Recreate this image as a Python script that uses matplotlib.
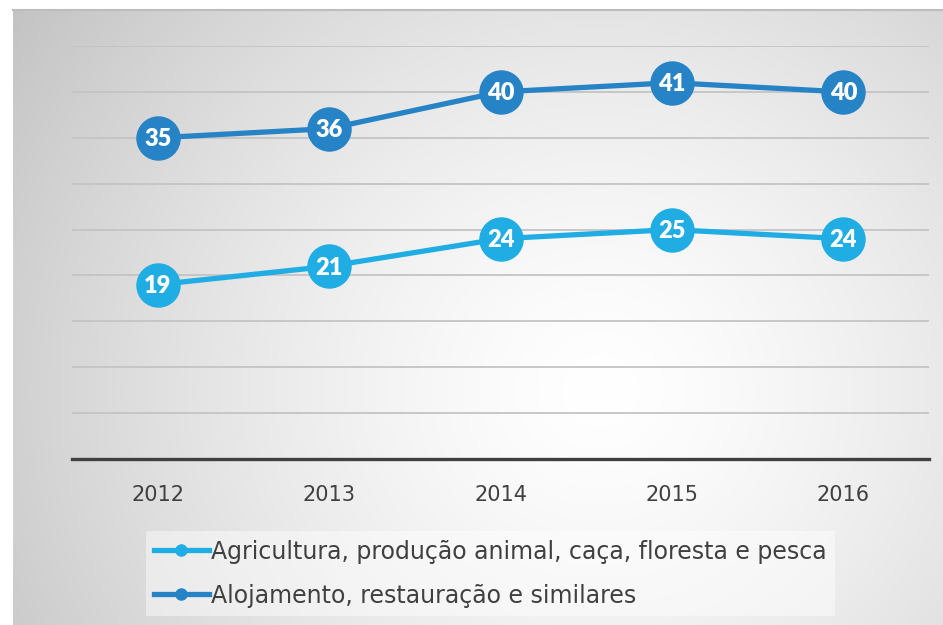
import numpy as np
import matplotlib
matplotlib.use("Agg")
import matplotlib.pyplot as plt
from matplotlib.lines import Line2D

years = ["2012", "2013", "2014", "2015", "2016"]
agri = [19, 21, 24, 25, 24]
aloj = [35, 36, 40, 41, 40]
series_names = ["Agricultura, produção animal, caça, floresta e pesca",
                "Alojamento, restauração e similares"]
colors = ["#1fade4", "#2683c6"]

W, H = 943, 625
dpi = 100
fig = plt.figure(figsize=(W / dpi, H / dpi), dpi=dpi)
fig.patch.set_facecolor("white")

# background panel with radial gradient
bx0, by0 = 13, 10
bg = fig.add_axes([bx0 / W, 0, 1 - bx0 / W, 1 - by0 / H], zorder=-5)
xs = np.arange(bx0, W)
ys = np.arange(by0, H)
X, Y = np.meshgrid(xs, ys)
cx, cy = 600, 390
d = np.sqrt(((X - cx) / 1.0) ** 2 + ((Y - cy) / 0.95) ** 2)
v = 1 - 0.23 * np.clip(d / 700, 0, 1.2) ** 1.4
img = np.dstack([v, v, v])
bg.imshow(img, aspect="auto", extent=[0, 1, 0, 1], interpolation="bilinear")
bg.set_xlim(0, 1)
bg.set_ylim(0, 1)
bg.axis("off")
bg.plot([0, 1], [1, 1], color="#bdbdbd", lw=1.5, transform=bg.transAxes, clip_on=False)

left, right = 72 / W, 929 / W
bottom, top = 1 - 459 / H, 1 - 46 / H
ax = fig.add_axes([left, bottom, right - left, top - bottom])
ax.set_facecolor("none")

x = np.arange(len(years))
ax.set_xlim(-0.5, len(years) - 0.5)
ax.set_ylim(0, 45)
ax.set_yticks(np.arange(5, 50, 5))
ax.yaxis.grid(True, color="#c4c4c4", lw=1.3)
ax.set_axisbelow(True)
for s in ["top", "left", "right"]:
    ax.spines[s].set_visible(False)
ax.spines["bottom"].set_color("#404040")
ax.spines["bottom"].set_linewidth(2.4)
ax.tick_params(axis="y", length=0, labelleft=False)
ax.tick_params(axis="x", length=0, pad=19, labelsize=15, labelcolor="#404040")
ax.set_xticks(x)
ax.set_xticklabels(years, fontfamily="DejaVu Sans")

for vals, c, zo in [(aloj, colors[1], 3), (agri, colors[0], 4)]:
    ax.plot(x, vals, color=c, lw=3.8, marker="o", markersize=32,
            markeredgewidth=0, zorder=zo, clip_on=False)
    for xi, vi in zip(x, vals):
        ax.text(xi, vi - 0.15, str(vi), ha="center", va="center", color="white",
                fontsize=17, fontweight="heavy", fontfamily="Lato", zorder=zo + 1)

handles = [Line2D([0], [0], color=c, lw=3.8, marker="o", markersize=8) for c in colors]
leg = fig.legend(handles, series_names, loc="lower left",
                 bbox_to_anchor=(146 / W, 1 - 616 / H), frameon=True,
                 prop={"family": "DejaVu Sans", "size": 17}, handlelength=2.3,
                 handletextpad=0.12, labelspacing=0.85, borderpad=0.35,
                 borderaxespad=0, fancybox=False)
leg.get_frame().set_facecolor("white")
leg.get_frame().set_alpha(0.45)
leg.get_frame().set_edgecolor("none")
for t in leg.get_texts():
    t.set_color("#404040")

fig.savefig("out.png", dpi=dpi, facecolor=fig.get_facecolor())
